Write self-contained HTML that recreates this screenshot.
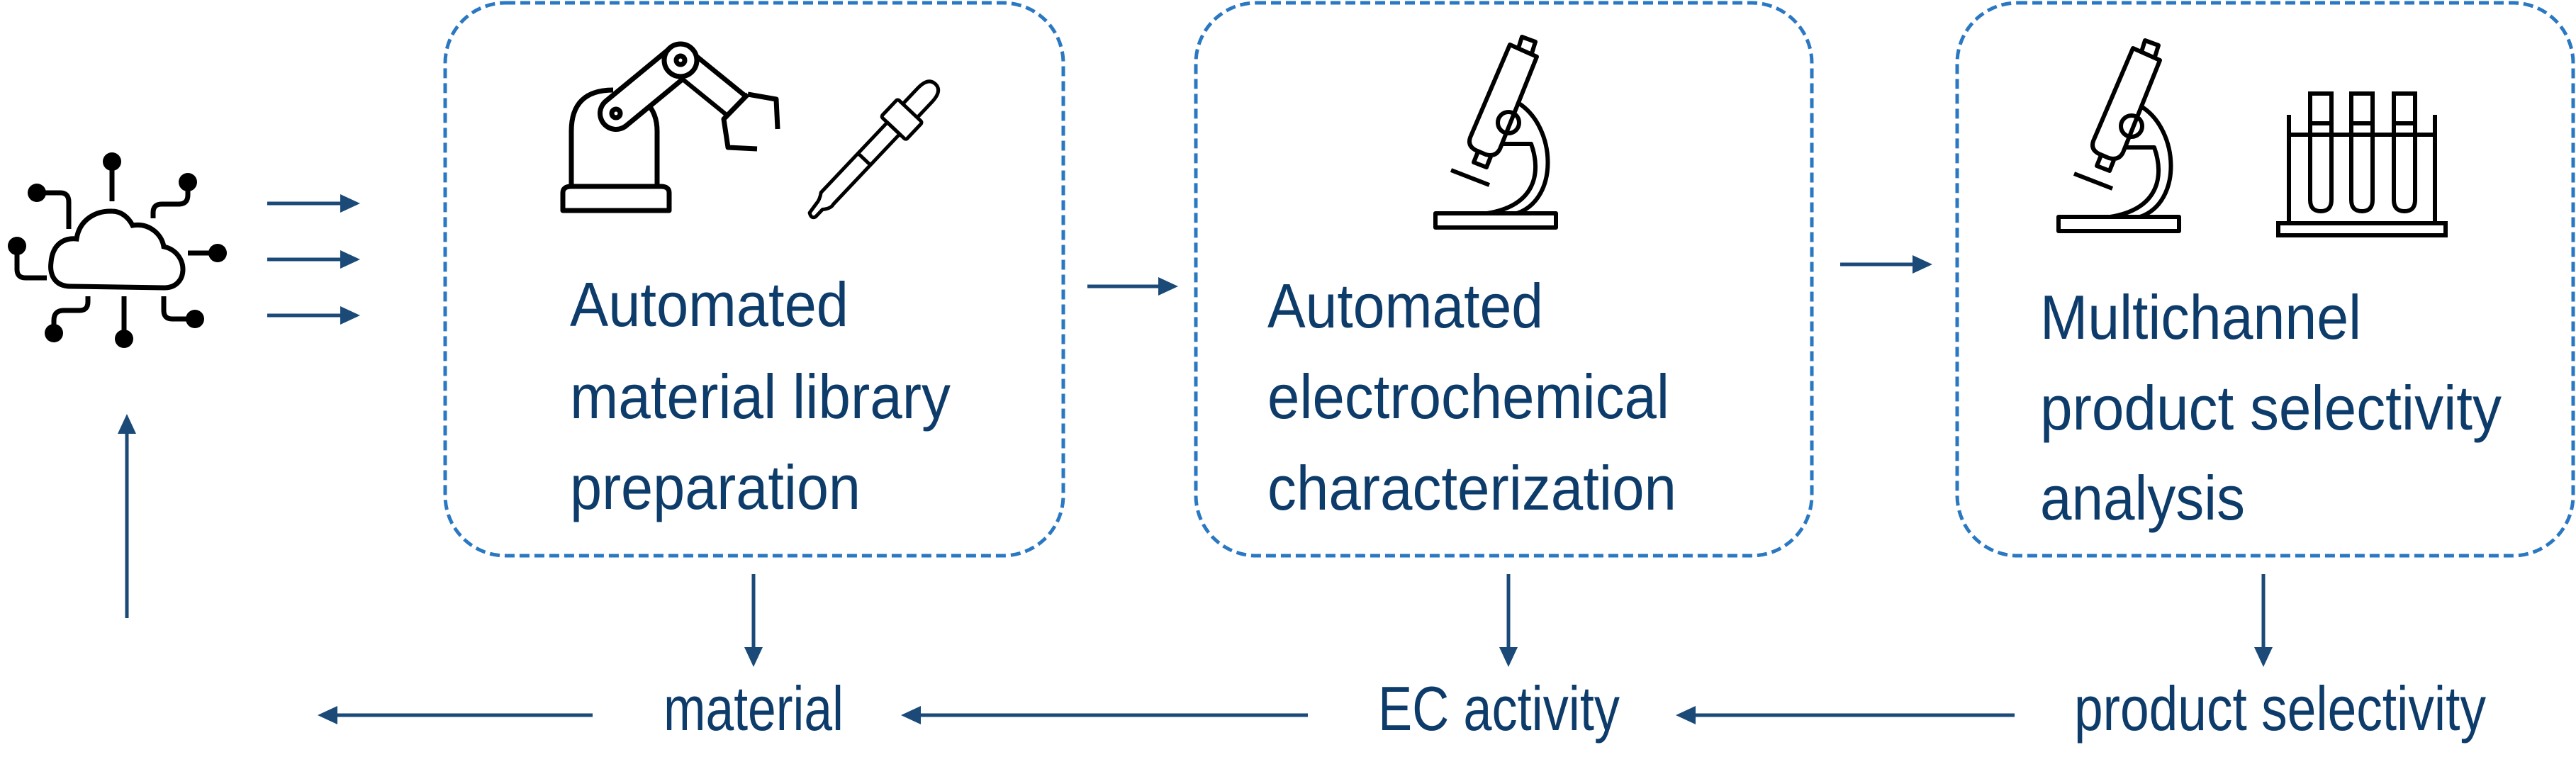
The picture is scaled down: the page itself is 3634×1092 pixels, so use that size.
<!DOCTYPE html>
<html><head><meta charset="utf-8"><style>
html,body{margin:0;padding:0;background:#fff}
svg{display:block}
text{font-family:"Liberation Sans",sans-serif;fill:#0d3c6b;font-size:88px}
</style></head><body>
<svg width="3634" height="1092" viewBox="0 0 3634 1092" xmlns="http://www.w3.org/2000/svg">
<g fill="none" stroke="#2a78c2" stroke-width="5" stroke-dasharray="14 7">
<rect x="628" y="4" width="872" height="780" rx="85"/>
<rect x="1687" y="4" width="869" height="780" rx="85"/>
<rect x="2761" y="4" width="869" height="780" rx="85"/>
</g>
<g stroke="#1b4a78" stroke-width="5" fill="none">
<line x1="377" y1="287" x2="480" y2="287"/><line x1="377" y1="366" x2="480" y2="366"/><line x1="377" y1="445" x2="480" y2="445"/>
<line x1="179" y1="872" x2="179" y2="612"/>
<line x1="1534" y1="404" x2="1636" y2="404"/>
<line x1="2596" y1="373" x2="2700" y2="373"/>
<line x1="1063" y1="810" x2="1063" y2="915"/>
<line x1="2128" y1="810" x2="2128" y2="915"/>
<line x1="3193" y1="810" x2="3193" y2="915"/>
<line x1="836" y1="1009" x2="475" y2="1009"/>
<line x1="1845" y1="1009" x2="1298" y2="1009"/>
<line x1="2842" y1="1009" x2="2392" y2="1009"/>
</g>
<g fill="#1b4a78">
<path d="M508,287 l-28,-13 v26z"/><path d="M508,366 l-28,-13 v26z"/><path d="M508,445 l-28,-13 v26z"/>
<path d="M179,584 l-13,28 h26z"/>
<path d="M1662,404 l-28,-13 v26z"/>
<path d="M2726,373 l-28,-13 v26z"/>
<path d="M1063,941 l-13,-28 h26z"/><path d="M2128,941 l-13,-28 h26z"/><path d="M3193,941 l-13,-28 h26z"/>
<path d="M448,1009 l28,-13 v26z"/><path d="M1271,1009 l28,-13 v26z"/><path d="M2364,1009 l28,-13 v26z"/>
</g>
<!-- cloud -->
<g stroke="#000" stroke-width="7" fill="none">
<path d="M100,404 C75,404 70,385 72,370 C74,345 90,335 108,337 C112,310 135,297 158,298 C172,298 182,308 187,318 C210,314 228,330 231,348 C250,352 258,368 258,380 C258,395 248,406 232,406 Z"/>
<line x1="158" y1="228" x2="158" y2="284"/>
<path d="M265,257 V275 Q265,288 252,288 H228 Q216,288 216,300 V308"/>
<path d="M52,272 H85 Q97,272 97,285 V323"/>
<path d="M24,347 V380 Q24,392 36,392 H66"/>
<path d="M307,357 H265"/>
<path d="M76,470 V452 Q76,438 90,438 H112 Q124,438 124,426 V418"/>
<line x1="175" y1="478" x2="175" y2="418"/>
<path d="M275,450 H243 Q231,450 231,438 V418"/>
</g>
<g fill="#000"><circle cx="158" cy="228" r="13"/><circle cx="265" cy="257" r="13"/><circle cx="52" cy="272" r="13"/><circle cx="24" cy="347" r="13"/><circle cx="307" cy="357" r="13"/><circle cx="76" cy="470" r="13"/><circle cx="175" cy="478" r="13"/><circle cx="275" cy="450" r="13"/></g>
<!-- robot arm -->
<g stroke="#000" stroke-width="7" fill="none" stroke-linejoin="round">
<path d="M794,297 V272 Q794,263 806,263 H932 Q944,263 944,272 V297 Z"/>
<path d="M806,263 V185 Q806,127 865,127"/><path d="M927,263 V185 Q927,160 912,145"/>
</g>
<line x1="869" y1="160" x2="960" y2="85" stroke="#000" stroke-width="52" stroke-linecap="round"/>
<line x1="869" y1="160" x2="960" y2="85" stroke="#fff" stroke-width="38" stroke-linecap="round"/>
<line x1="960" y1="85" x2="1040" y2="150" stroke="#000" stroke-width="44"/>
<line x1="962" y1="87" x2="1042" y2="152" stroke="#fff" stroke-width="31"/>
<g stroke="#000" stroke-width="7" fill="none" stroke-linejoin="round">
<circle cx="960" cy="85" r="23" fill="#fff"/><circle cx="960" cy="85" r="6"/>
<circle cx="869" cy="160" r="6"/>
<path d="M1055,133 L1095,140 L1097,182"/>
<path d="M1055,133 L1021,168 L1027,208 L1068,210"/>
</g>
<!-- dropper -->
<g transform="translate(1145,303) rotate(-46.6)" stroke="#000" stroke-width="5" fill="none" stroke-linejoin="round">
<path d="M0,-4 Q-5,4 2,6 L16,6 Q25,14 32,12 L168,12 L168,-12 L32,-12 Q23,-6 16,-6 Z"/>
<line x1="108" y1="-12" x2="108" y2="12"/>
<rect x="168" y="-24" width="34" height="48" rx="3"/>
<path d="M202,-14 L232,-14 Q254,-14 254,0 Q254,14 232,14 L202,14"/>
</g>
<!-- microscope -->
<g id="mic" stroke="#000" stroke-width="6" fill="none" stroke-linejoin="round">
<rect x="2025" y="301" width="170" height="20"/>
<path d="M2130,63 L2168,80 L2116,210 Q2110,222 2096,218 L2082,212 Q2070,206 2074,194 Z"/>
<path d="M2142,68 L2147,52 L2166,59 L2161,75"/>
<path d="M2085,214 L2079,229 L2097,236 L2103,221"/>
<line x1="2047" y1="240" x2="2101" y2="261"/>
<circle cx="2128" cy="173" r="15"/>
<path d="M2143,146 C2195,180 2200,280 2140,301"/>
<path d="M2118,203 L2160,203 C2175,245 2165,290 2098,301"/>
</g>
<use href="#mic" transform="translate(879,5)"/>
<!-- test tubes -->
<g stroke="#000" stroke-width="6" fill="none">
<rect x="3214" y="315" width="236" height="17"/>
<line x1="3229" y1="162" x2="3229" y2="315"/><line x1="3435" y1="162" x2="3435" y2="315"/>
<line x1="3229" y1="190" x2="3435" y2="190"/>
<path d="M3256,132 H3292 M3259,132 V282 Q3259,298 3274,298 Q3289,298 3289,282 V132 M3259,174 H3289"/>
<path d="M3314,132 H3350 M3317,132 V282 Q3317,298 3332,298 Q3347,298 3347,282 V132 M3317,174 H3347"/>
<path d="M3374,132 H3410 M3377,132 V282 Q3377,298 3392,298 Q3407,298 3407,282 V132 M3377,174 H3407"/>
</g>
<!-- texts -->
<text x="804" y="460" textLength="393" lengthAdjust="spacingAndGlyphs">Automated</text>
<text x="804" y="590" textLength="537" lengthAdjust="spacingAndGlyphs">material library</text>
<text x="804" y="718" textLength="410" lengthAdjust="spacingAndGlyphs">preparation</text>
<text x="1788" y="462" textLength="389" lengthAdjust="spacingAndGlyphs">Automated</text>
<text x="1788" y="590" textLength="567" lengthAdjust="spacingAndGlyphs">electrochemical</text>
<text x="1788" y="719" textLength="577" lengthAdjust="spacingAndGlyphs">characterization</text>
<text x="2878" y="478" textLength="453" lengthAdjust="spacingAndGlyphs">Multichannel</text>
<text x="2878" y="606" textLength="651" lengthAdjust="spacingAndGlyphs">product selectivity</text>
<text x="2878" y="733" textLength="289" lengthAdjust="spacingAndGlyphs">analysis</text>
<text x="936" y="1030" textLength="254" lengthAdjust="spacingAndGlyphs">material</text>
<text x="1944" y="1030" textLength="341" lengthAdjust="spacingAndGlyphs">EC activity</text>
<text x="2926" y="1030" textLength="581" lengthAdjust="spacingAndGlyphs">product selectivity</text>
</svg>
</body></html>
